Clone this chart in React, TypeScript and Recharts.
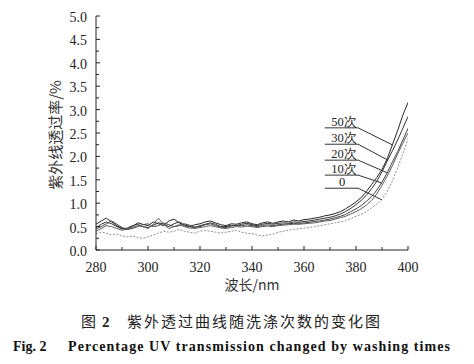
import React from "react";
import { LineChart, Line, XAxis, YAxis, ReferenceLine, ReferenceDot } from "recharts";

const wavelengths = [
  280, 282, 284, 286, 288, 290, 292, 294, 296, 298, 300, 302, 304, 306, 308, 310, 312, 314, 316, 318,
  320, 322, 324, 326, 328, 330, 332, 334, 336, 338, 340, 342, 344, 346, 348, 350, 352, 354, 356, 358,
  360, 362, 364, 366, 368, 370, 372, 374, 376, 378, 380, 382, 384, 386, 388, 390, 392, 394, 396, 398, 400,
];

const wash50 = [
  0.55, 0.62, 0.68, 0.6, 0.52, 0.46, 0.44, 0.5, 0.58, 0.55, 0.52, 0.6, 0.56, 0.52, 0.62, 0.66, 0.58, 0.52, 0.5, 0.54,
  0.56, 0.6, 0.62, 0.58, 0.54, 0.52, 0.56, 0.55, 0.58, 0.6, 0.56, 0.54, 0.58, 0.6, 0.57, 0.6, 0.62, 0.6, 0.64, 0.62,
  0.65, 0.66, 0.68, 0.7, 0.73, 0.75, 0.78, 0.82, 0.88, 0.95, 1.03, 1.12, 1.25, 1.4, 1.55, 1.72, 1.95, 2.25, 2.55, 2.88, 3.15,
];
const wash30 = [
  0.48, 0.55, 0.6, 0.56, 0.5, 0.45, 0.47, 0.52, 0.55, 0.5, 0.48, 0.53, 0.58, 0.55, 0.5, 0.56, 0.6, 0.54, 0.5, 0.48,
  0.52, 0.55, 0.58, 0.55, 0.5, 0.5, 0.53, 0.52, 0.55, 0.57, 0.54, 0.52, 0.55, 0.57, 0.55, 0.57, 0.58, 0.57, 0.6, 0.59,
  0.61, 0.62, 0.64, 0.66, 0.68, 0.7, 0.73, 0.77, 0.82, 0.89, 0.97, 1.06, 1.17, 1.31, 1.47, 1.67, 1.9, 2.12, 2.35, 2.6, 2.85,
];
const wash20 = [
  0.45, 0.5, 0.56, 0.62, 0.55, 0.48, 0.44, 0.46, 0.5, 0.54, 0.56, 0.5, 0.52, 0.58, 0.54, 0.5, 0.52, 0.56, 0.53, 0.49,
  0.5, 0.54, 0.56, 0.52, 0.49, 0.48, 0.51, 0.53, 0.52, 0.54, 0.52, 0.5, 0.52, 0.54, 0.52, 0.54, 0.55, 0.56, 0.57, 0.56,
  0.58, 0.59, 0.61, 0.62, 0.64, 0.66, 0.69, 0.72, 0.76, 0.82, 0.88, 0.95, 1.04, 1.14, 1.28, 1.45, 1.65, 1.88, 2.1, 2.35, 2.6,
];
const wash10 = [
  0.4, 0.46, 0.52, 0.5, 0.46, 0.42, 0.45, 0.48, 0.52, 0.5, 0.46, 0.55, 0.68, 0.55, 0.46, 0.5, 0.54, 0.5, 0.47, 0.46,
  0.48, 0.5, 0.52, 0.5, 0.47, 0.46, 0.48, 0.5, 0.49, 0.51, 0.5, 0.48, 0.5, 0.51, 0.5, 0.52, 0.53, 0.54, 0.55, 0.55,
  0.56, 0.57, 0.58, 0.6, 0.62, 0.63, 0.66, 0.69, 0.72, 0.77, 0.82, 0.88, 0.96, 1.06, 1.2, 1.38, 1.58, 1.8, 2.05, 2.28, 2.5,
];
const wash0 = [
  0.35, 0.38, 0.36, 0.32, 0.34, 0.3, 0.28, 0.3, 0.27, 0.25, 0.28, 0.32, 0.36, 0.4, 0.38, 0.4, 0.44, 0.4, 0.38, 0.36,
  0.4, 0.42, 0.4, 0.38, 0.36, 0.38, 0.4, 0.42, 0.38, 0.36, 0.35, 0.32, 0.3, 0.32, 0.34, 0.38, 0.4, 0.42, 0.44, 0.45,
  0.47, 0.48, 0.5, 0.52, 0.54, 0.56, 0.58, 0.6, 0.63, 0.67, 0.72, 0.76, 0.82, 0.9, 0.98, 1.08, 1.25, 1.48, 1.75, 2.05, 2.38,
];

const xTicks = [280, 290, 300, 310, 320, 330, 340, 350, 360, 370, 380, 390, 400];
const yTicks = [0, 0.25, 0.5, 0.75, 1, 1.25, 1.5, 1.75, 2, 2.25, 2.5, 2.75, 3, 3.25, 3.5, 3.75, 4, 4.25, 4.5, 4.75, 5];

const seriesKeys = ["w50", "w30", "w20", "w10", "w0"];
const seriesColors = ["#262626", "#333333", "#444444", "#5e5e5e", "#8e8e8e"];

const labelTexts = ["50次", "30次", "20次", "10次", "0"];
const labelLineY = [2.61, 2.26, 1.92, 1.6, 1.32];
const labelStartX = [368, 368, 368, 368, 368];
const labelEndX = [380.8, 380.8, 380.8, 380.8, 380.8];
const leaderEndX = [394.2, 392.3, 392, 390, 390];
const leaderEndY = [2.24, 1.92, 1.65, 1.43, 1.07];
const labelTextX = [370.5, 370.5, 370.5, 370.5, 373.5];

const data = wavelengths.map((wl, i) => ({
  wl,
  w50: wash50[i],
  w30: wash30[i],
  w20: wash20[i],
  w10: wash10[i],
  w0: wash0[i],
}));

const SERIF = '"Liberation Serif", "Times New Roman", serif';
const CJK = '"Noto Sans CJK SC", "Noto Sans", sans-serif';

const YTick = (props: any) => {
  const { x, y, payload } = props;
  const v = payload.value as number;
  const major = Math.abs(v * 2 - Math.round(v * 2)) < 1e-6;
  return (
    <g>
      <line x1={x} x2={x + (major ? 4 : 3)} y1={y} y2={y} stroke="#222" strokeWidth={1} />
      {major && (
        <text x={x - 9} y={y} dy={6} textAnchor="end" style={{ fontFamily: SERIF, fontSize: 14 }} fill="#222">
          {v.toFixed(1)}
        </text>
      )}
    </g>
  );
};

const XTick = (props: any) => {
  const { x, y, payload } = props;
  const v = payload.value as number;
  const major = v % 20 === 0;
  return (
    <g>
      <line x1={x} x2={x} y1={y} y2={y - (major ? 4 : 3)} stroke="#222" strokeWidth={1} />
      {major && (
        <text x={x} y={y} dy={22} textAnchor="middle" style={{ fontFamily: SERIF, fontSize: 14 }} fill="#222">
          {v}
        </text>
      )}
    </g>
  );
};

const XTitle = (props: any) => {
  const vb = props.viewBox || {};
  return (
    <text x={vb.x + vb.width / 2} y={vb.y + 40} textAnchor="middle" style={{ fontFamily: CJK, fontSize: 14 }} fill="#333">
      波长/nm
    </text>
  );
};

const YTitle = (props: any) => {
  const vb = props.viewBox || {};
  const cx = 54;
  const cy = vb.y + vb.height / 2 + 2;
  return (
    <text
      x={cx}
      y={cy}
      transform={`rotate(-90, ${cx}, ${cy})`}
      textAnchor="middle"
      dominantBaseline="central"
      style={{ fontFamily: CJK, fontSize: 15 }}
      fill="#333"
    >
      紫外线透过率/%
    </text>
  );
};

const makeLabel = (text: string) => (props: any) => {
  const vb = props.viewBox || {};
  const cx = (vb.x ?? 0) + (vb.width ?? 0) / 2;
  const cy = (vb.y ?? 0) + (vb.height ?? 0) / 2;
  return (
    <text x={cx} y={cy - 2} textAnchor="start" style={{ fontFamily: SERIF, fontSize: 12.5 }} fill="#222">
      {text}
    </text>
  );
};

export default function App() {
  return (
    <div style={{ position: "absolute", left: 0, top: 0, width: 474, height: 364, background: "#fff" }}>
      <LineChart width={474} height={300} data={data} margin={{ top: 16, right: 66, bottom: 0, left: 0 }}>
        <XAxis
          dataKey="wl"
          type="number"
          domain={[280, 400]}
          ticks={xTicks}
          interval={0}
          allowDataOverflow
          height={50}
          tickSize={0}
          tickMargin={0}
          tickLine={false}
          tick={<XTick />}
          axisLine={{ stroke: "#222", strokeWidth: 1 }}
          label={<XTitle />}
        />
        <YAxis
          type="number"
          domain={[0, 5]}
          ticks={yTicks}
          interval={0}
          allowDataOverflow
          width={96}
          tickSize={0}
          tickMargin={0}
          tickLine={false}
          tick={<YTick />}
          axisLine={{ stroke: "#222", strokeWidth: 1 }}
          label={<YTitle />}
        />
        {seriesKeys.map((k, i) => (
          <Line
            key={k}
            type="linear"
            dataKey={k}
            stroke={seriesColors[i]}
            strokeWidth={1}
            strokeDasharray={k === "w0" ? "2 1.5" : undefined}
            dot={false}
            isAnimationActive={false}
          />
        ))}
        {labelTexts.map((t, i) => (
          <ReferenceLine
            key={`u${i}`}
            segment={[
              { x: labelStartX[i], y: labelLineY[i] },
              { x: labelEndX[i], y: labelLineY[i] },
            ]}
            stroke="#333"
            strokeWidth={1}
          />
        ))}
        {labelTexts.map((t, i) => (
          <ReferenceLine
            key={`l${i}`}
            segment={[
              { x: labelEndX[i], y: labelLineY[i] },
              { x: leaderEndX[i], y: leaderEndY[i] },
            ]}
            stroke="#333"
            strokeWidth={1}
          />
        ))}
        {labelTexts.map((t, i) => (
          <ReferenceDot
            key={`d${i}`}
            x={labelTextX[i]}
            y={labelLineY[i]}
            r={1}
            fill="none"
            stroke="none"
            label={makeLabel(t)}
          />
        ))}
      </LineChart>
      <svg width={474} height={64} style={{ position: "absolute", left: 0, top: 300 }}>
        <text y={27} style={{ fontFamily: CJK, fontSize: 15 }} fill="#222">
          <tspan x={81}>图</tspan>
          <tspan x={102} style={{ fontFamily: SERIF, fontWeight: "bold" }}>2</tspan>
          <tspan x={127} textLength={253} lengthAdjust="spacing">紫外透过曲线随洗涤次数的变化图</tspan>
        </text>
        <text y={51} style={{ fontFamily: SERIF, fontSize: 14, fontWeight: "bold" }} fill="#111">
          <tspan x={13}>Fig. 2</tspan>
          <tspan x={68} textLength={382} lengthAdjust="spacing">Percentage UV transmission changed by washing times</tspan>
        </text>
      </svg>
    </div>
  );
}
